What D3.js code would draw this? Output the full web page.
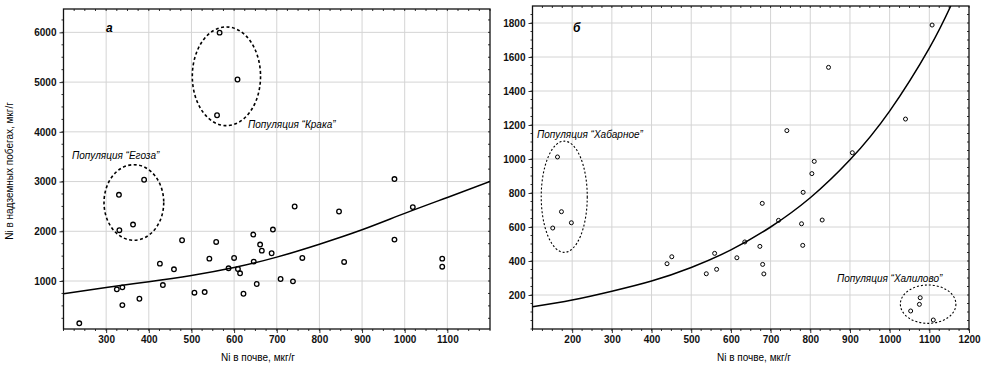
<!DOCTYPE html>
<html><head><meta charset="utf-8">
<script src="https://cdn.jsdelivr.net/npm/d3@7"></script>
<style>
body{margin:0;background:#fff;}
svg text{font-family:"Liberation Sans",Arial,sans-serif;}
</style></head>
<body><svg id="c" width="986" height="378"></svg>
<script>
// ---------- Panel а data ----------
const leftX = [237,325,338,338,378,330,389,331,363,426,433,459,478,507,531,542,558,587,600,609,614,622,645,646,653,661,665,688,691,709,738,742,760,846,858,976,976,1019,1088,1088,566,608,560];
const leftY = [150,832,873,516,643,2734,3036,2022,2135,1349,919,1236,1820,765,778,1450,1786,1256,1464,1242,1155,744,1934,1390,940,1733,1611,1558,2035,1040,993,2498,1464,2398,1383,3050,1833,2486,1450,1288,5994,5052,4333];
const leftCurveX = [200,300,400,500,600,700,800,900,1000,1100,1200];
const leftCurveY = [744,870,985,1110,1270,1480,1740,2030,2360,2680,3000];
const leftXTicks = [300,400,500,600,700,800,900,1000,1100];
const leftYTicks = [1000,2000,3000,4000,5000,6000];
const leftGroups = ["Популяция “Егоза”","Популяция “Кpака”"];
const leftGroupCx = [365,582], leftGroupCy = [2579,5117], leftGroupRx = [70,80], leftGroupRy = [760,992];

// ---------- Panel б data ----------
const rightX = [163,151,173,198,439,451,538,559,564,615,635,673,679,680,683,720,778,781,782,830,1053,1075,1077,1110,741,846,1107,1040,906,810,804];
const rightY = [1012,594,690,625,384,425,325,445,351,419,512,486,739,380,324,639,619,492,804,641,106,145,184,53,1167,1539,1788,1235,1037,986,914];
const rightCurveX = [100,200,300,400,500,600,700,800,900,1000,1100,1154];
const rightCurveY = [131,170,222,282,362,465,600,772,995,1282,1652,1900];
const rightXTicks = [200,300,400,500,600,700,800,900,1000,1100,1200];
const rightYTicks = [200,400,600,800,1000,1200,1400,1600,1800];
const rightGroups = ["Популяция “Хабарное”","Популяция “Халилово”"];
const rightGroupCx = [180,1097], rightGroupCy = [778,146], rightGroupRx = [58,70], rightGroupRy = [327,113];

const xLabel = "Ni в почве, мкг/г";
const yLabel = "Ni в надземных побегах, мкг/г";

const svg = d3.select("#c");

function panel(o){
  const g = svg.append("g");
  const x = d3.scaleLinear().domain(o.xd).range([o.l,o.r]);
  const y = d3.scaleLinear().domain(o.yd).range([o.b,o.t]);
  const id = "clip"+o.name;
  svg.append("clipPath").attr("id",id).append("rect")
    .attr("x",o.l).attr("y",o.t).attr("width",o.r-o.l).attr("height",o.b-o.t);
  // grid
  g.append("g").selectAll("line").data(o.xt.filter(v=>v<o.xd[1])).join("line")
    .attr("x1",d=>x(d)).attr("x2",d=>x(d)).attr("y1",o.t).attr("y2",o.b)
    .attr("stroke","#d4d4d4").attr("stroke-width",1);
  g.append("g").selectAll("line").data(o.yt).join("line")
    .attr("y1",d=>y(d)).attr("y2",d=>y(d)).attr("x1",o.l).attr("x2",o.r)
    .attr("stroke","#d4d4d4").attr("stroke-width",1);
  // minor ticks
  const xm = d3.range(o.xd[0], o.xd[1]+1e-6, o.xminor);
  const ym = d3.range(Math.ceil(o.yd[0]/o.yminor)*o.yminor, o.yd[1], o.yminor);
  const tk = g.append("g").attr("stroke","#333").attr("stroke-width",1);
  tk.selectAll(".a").data(xm).join("line").attr("x1",d=>x(d)).attr("x2",d=>x(d)).attr("y1",o.b).attr("y2",o.b+2);
  tk.selectAll(".b").data(xm).join("line").attr("x1",d=>x(d)).attr("x2",d=>x(d)).attr("y1",o.t).attr("y2",o.t+2);
  tk.selectAll(".c").data(ym).join("line").attr("y1",d=>y(d)).attr("y2",d=>y(d)).attr("x1",o.r).attr("x2",o.r-2);
  tk.selectAll(".d").data(ym).join("line").attr("y1",d=>y(d)).attr("y2",d=>y(d)).attr("x1",o.l).attr("x2",o.l-2);
  // axes
  const ax = g.append("g").attr("transform",`translate(0,${o.b})`)
    .call(d3.axisBottom(x).tickValues(o.xt).tickSize(4).tickPadding(3).tickFormat(d3.format("d")));
  const ay = g.append("g").attr("transform",`translate(${o.l},0)`)
    .call(d3.axisLeft(y).tickValues(o.yt).tickSize(4).tickPadding(3).tickFormat(d3.format("d")));
  [ax,ay].forEach(a=>{
    a.select(".domain").remove();
    a.selectAll("line").attr("stroke","#333");
    a.selectAll("text").attr("font-size",10).attr("font-weight","bold").attr("fill","#111")
      .attr("font-family","Liberation Sans, Arial, sans-serif");
  });
  // frame
  g.append("rect").attr("x",o.l).attr("y",o.t).attr("width",o.r-o.l).attr("height",o.b-o.t)
    .attr("fill","none").attr("stroke","#111").attr("stroke-width",1.3);
  // curve
  g.append("path").datum(o.cx.map((v,i)=>[v,o.cy[i]]))
    .attr("clip-path",`url(#${id})`)
    .attr("d",d3.line().x(d=>x(d[0])).y(d=>y(d[1])).curve(d3.curveNatural))
    .attr("fill","none").attr("stroke","#000").attr("stroke-width",1.5);
  // ellipses
  o.gcx.forEach((cx,i)=>{
    g.append("ellipse").attr("cx",x(cx)).attr("cy",y(o.gcy[i]))
      .attr("rx",x(cx+o.grx[i])-x(cx)).attr("ry",y(o.gcy[i])-y(o.gcy[i]+o.gry[i]))
      .attr("fill","none").attr("stroke","#000").attr("stroke-width",o.ew).attr("stroke-dasharray",o.ed);
  });
  // points
  g.append("g").selectAll("circle").data(o.px.map((v,i)=>[v,o.py[i]])).join("circle")
    .attr("cx",d=>x(d[0])).attr("cy",d=>y(d[1])).attr("r",o.pr)
    .attr("fill","none").attr("stroke","#000").attr("stroke-width",o.pw);
  // group labels
  o.gl.forEach((t,i)=>{
    g.append("text").attr("x",o.glx[i]).attr("y",o.gly[i]).text(t)
      .attr("font-size",10).attr("font-style","italic").attr("fill","#000");
  });
  // panel letter
  g.append("text").attr("x",o.lx).attr("y",o.ly).text(o.letter)
    .attr("font-size",12).attr("font-style","italic").attr("font-weight","bold");
  // x label
  g.append("text").attr("x",o.xlx).attr("y",361).attr("text-anchor","middle")
    .attr("font-size",10).text(xLabel);
  return {x,y};
}

panel({name:"a", l:63.5, r:490, t:9, b:329, xd:[200,1200], yd:[35,6470],
  xt:leftXTicks, yt:leftYTicks, xminor:25, yminor:250,
  cx:leftCurveX, cy:leftCurveY, px:leftX, py:leftY, pr:2.3, pw:1.3,
  gcx:leftGroupCx, gcy:leftGroupCy, grx:leftGroupRx, gry:leftGroupRy, ew:1.6, ed:"3,2.5",
  gl:leftGroups, glx:[72,248], gly:[159,128], letter:"а", lx:106, ly:32, xlx:258});

panel({name:"b", l:532.5, r:969, t:6, b:329, xd:[100,1200], yd:[0,1900],
  xt:rightXTicks, yt:rightYTicks, xminor:25, yminor:50,
  cx:rightCurveX, cy:rightCurveY, px:rightX, py:rightY, pr:2, pw:1,
  gcx:rightGroupCx, gcy:rightGroupCy, grx:rightGroupRx, gry:rightGroupRy, ew:1.1, ed:"2,2",
  gl:rightGroups, glx:[537,837], gly:[138,282], letter:"б", lx:573, ly:32, xlx:754});

svg.append("text").attr("transform","translate(13,171) rotate(-90)").attr("text-anchor","middle")
  .attr("font-size",10).text(yLabel);
</script></body></html>
